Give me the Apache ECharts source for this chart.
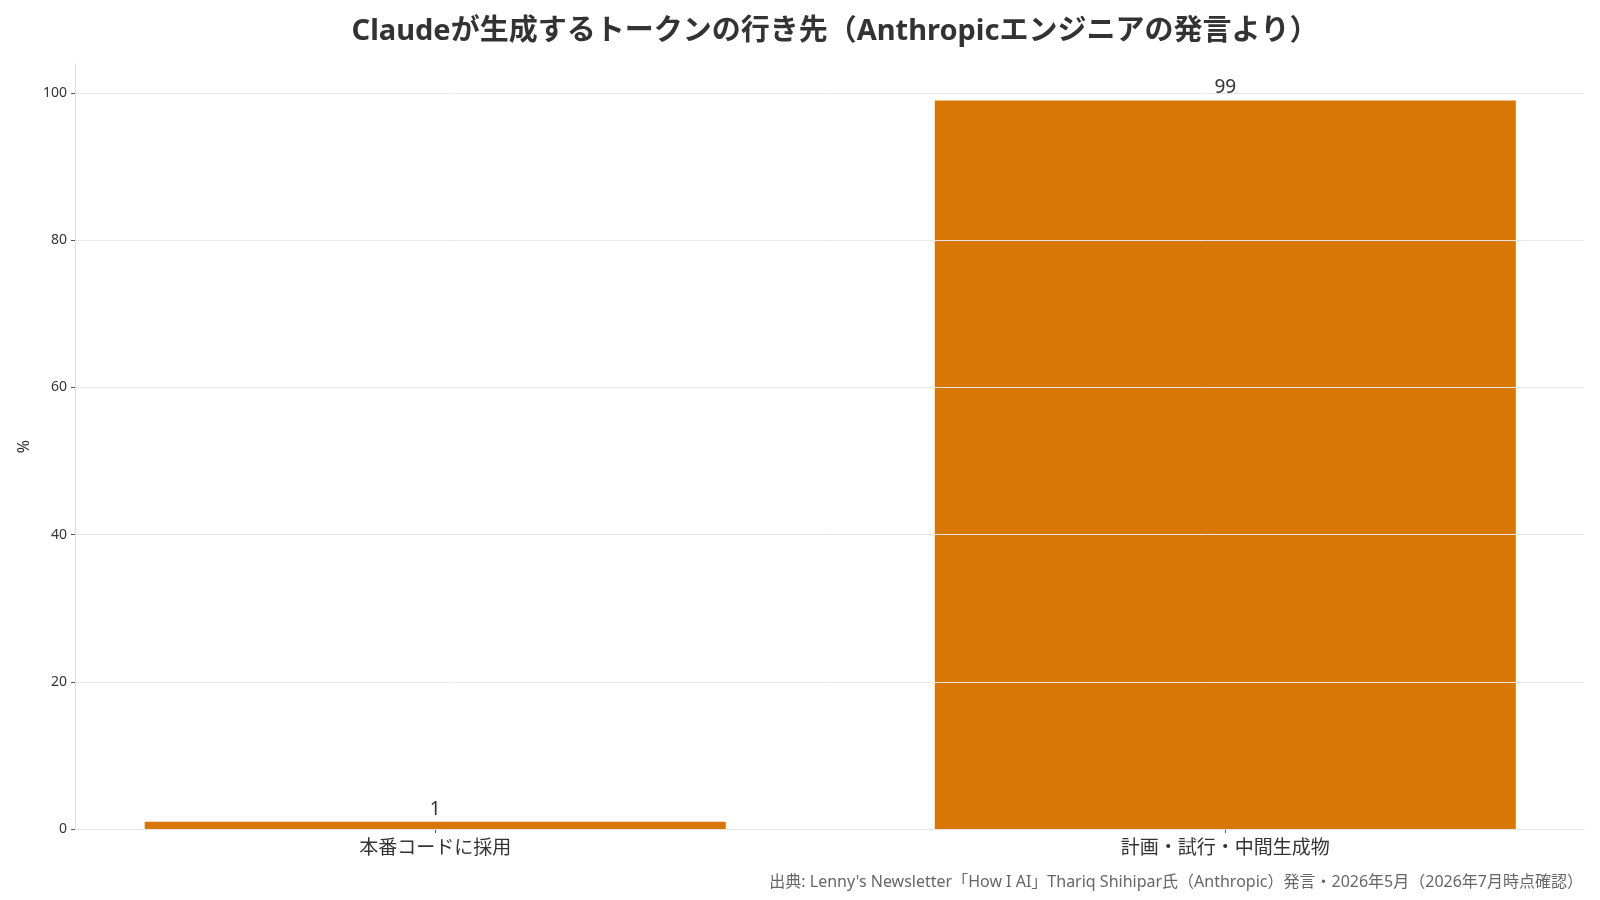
<!DOCTYPE html>
<html>
<head>
<meta charset="utf-8">
<script src="https://cdn.jsdelivr.net/npm/echarts@6/dist/echarts.min.js"></script>
<style>
  html, body { margin: 0; padding: 0; background: #fff; }
  #main { width: 1600px; height: 900px; }
</style>
</head>
<body>
<div id="main"></div>
<script>
// データ
var categories = ['本番コードに採用', '計画・試行・中間生成物'];
var values = [1, 99];
var yTicks = [0, 20, 40, 60, 80, 100];

var titleText = 'Claudeが生成するトークンの行き先（Anthropicエンジニアの発言より）';
var sourceText = '出典: Lenny\'s Newsletter「How I AI」Thariq Shihipar氏（Anthropic）発言・2026年5月（2026年7月時点確認）';

var font = '"Noto Sans", "Noto Sans CJK JP", sans-serif';

var chart = echarts.init(document.getElementById('main'));

var seriesData = [];
for (var i = 0; i < values.length; i++) {
	seriesData.push([i, values[i]]);
}

var option = {
	animation: false,
	textStyle: { fontFamily: font },
	title: [
		{
			text: titleText,
			left: 830,
			top: 12,
			textAlign: 'center',
			textStyle: { fontSize: 29, fontWeight: 'bold', color: '#333', fontFamily: font }
		},
		{
			text: sourceText,
			right: 12,
			top: 869,
			textStyle: { fontSize: 16, fontWeight: 'normal', color: '#666', fontFamily: font }
		}
	],
	grid: {
		left: 75,
		right: 16,
		top: 64,
		bottom: 71,
		containLabel: false
	},
	xAxis: {
		type: 'value',
		min: -0.456,
		max: 1.454,
		splitLine: { show: false },
		axisLine: { show: true, onZero: false, lineStyle: { color: '#dddddd' } },
		axisTick: {
			show: true,
			customValues: [0, 1],
			length: 4,
			lineStyle: { color: '#555' }
		},
		axisLabel: {
			customValues: [0, 1],
			fontSize: 19,
			color: '#333',
			margin: 10,
			formatter: function (v) { return categories[Math.round(v)]; }
		}
	},
	yAxis: {
		type: 'value',
		min: 0,
		max: 103.95,
		z: 3,
		name: '%',
		nameLocation: 'middle',
		nameGap: 43,
		nameTextStyle: { fontSize: 16, color: '#333' },
		axisLine: { show: true, onZero: false, lineStyle: { color: '#dddddd' } },
		axisTick: {
			show: true,
			customValues: yTicks,
			length: 4,
			lineStyle: { color: '#555' }
		},
		axisLabel: {
			customValues: yTicks,
			fontSize: 14,
			color: '#333',
			margin: 8
		},
		splitLine: { show: true, lineStyle: { color: '#e6e6e6', width: 1 } }
	},
	series: [
		{
			type: 'bar',
			data: seriesData,
			barWidth: 581,
			itemStyle: { color: '#D97706' },
			label: {
				show: true,
				position: 'top',
				distance: 3,
				fontSize: 19,
				color: '#333',
				formatter: function (p) { return p.value[1]; }
			}
		}
	]
};

chart.setOption(option);
</script>
</body>
</html>
